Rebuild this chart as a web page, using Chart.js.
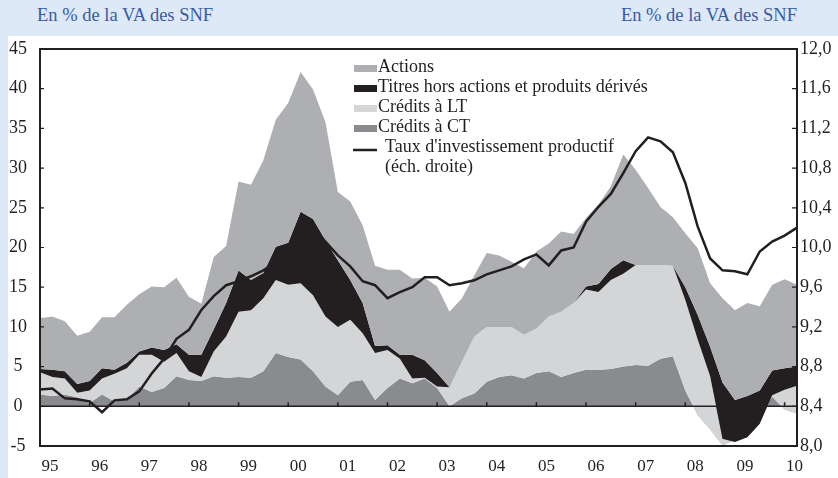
<!DOCTYPE html>
<html lang="fr">
<head>
<meta charset="utf-8">
<title>Financement des SNF</title>
<script src="https://cdn.jsdelivr.net/npm/chart.js@4.4.0/dist/chart.umd.min.js"></script>
<style>
  html, body { margin: 0; padding: 0; }
  body {
    width: 838px; height: 478px; position: relative; overflow: hidden;
    background: #dde9f6; font-family: "Liberation Serif", "DejaVu Serif", serif;
  }
  #fond { position: absolute; left: 8px; top: 36px; right: 0; bottom: 0; background: #fff; }
  .unite { position: absolute; top: 5px; font-size: 18.5px; color: #3a5aa6; white-space: nowrap; }
  #unite-g { left: 37px; }
  #unite-d { right: 41px; }
  #graphique { position: absolute; left: 0; top: 0; }
</style>
</head>
<body>
<div id="fond"></div>
<div class="unite" id="unite-g">En % de la VA des SNF</div>
<div class="unite" id="unite-d">En % de la VA des SNF</div>
<canvas id="graphique" width="838" height="478"></canvas>

<script>
// Années affichées sous l'axe (un repère tous les 4 trimestres)
const annees = ['95', '96', '97', '98', '99', '00', '01', '02', '03', '04', '05', '06', '07', '08', '09', '10'];

// Trimestres : de 1995 T1 à 2010 T2
const trimestres = [];
annees.forEach(function(a) {
    for (let t = 1; t <= 4; t++) trimestres.push(a + ' T' + t);
});
trimestres.length = 62;

// Flux en % de la VA des SNF
const creditsCT = [1.5, 1.3, 1.5, 1.1, 0.4, 1.5, 0.6, 0.9, 2.5, 1.8,
    2.3, 3.8, 3.3, 3.2, 3.8, 3.6, 3.7, 3.6, 4.4, 6.7,
    6.2, 5.9, 4.4, 2.5, 1.4, 3.1, 3.3, 0.8, 2.3, 3.5,
    2.9, 3.5, 2.3, 0.0, 1.0, 1.6, 3.1, 3.7, 3.9, 3.5,
    4.2, 4.4, 3.7, 4.2, 4.6, 4.6, 4.7, 5.0, 5.2, 5.1,
    6.0, 6.3, 2.0, -1.1, -2.9, -4.9, -4.2, -3.0, -1.0, 1.2,
    -0.4, -0.9];

const creditsLT = [2.8, 2.4, 2.0, 0.6, 1.6, 2.0, 3.5, 3.9, 4.0, 4.7,
    3.3, 2.9, 1.1, 0.5, 3.1, 5.2, 8.2, 8.5, 9.2, 9.2,
    9.1, 9.6, 9.6, 8.8, 8.6, 7.8, 5.9, 5.9, 4.8, 2.5,
    0.6, 0.1, 0.2, 2.4, 4.6, 7.2, 6.9, 6.3, 6.1, 5.5,
    5.6, 6.9, 8.2, 8.8, 10.1, 9.8, 11.2, 11.7, 12.6, 12.7,
    11.8, 11.4, 11.4, 9.5, 6.7, 0.8, -0.3, -0.9, -1.2, 0.2,
    2.5, 3.5];

const titres = [0.4, 0.9, 0.9, 1.1, 1.2, 1.3, 0.5, 0.7, 0.4, 0.9,
    1.5, 1.1, 2.1, 2.8, 2.8, 4.2, 5.2, 3.8, 3.2, 4.2,
    5.3, 9.0, 9.6, 9.6, 8.4, 5.0, 3.8, 0.9, 0.6, 0.5,
    3.0, 2.2, 1.7, 0.0, 0.0, 0.0, 0.0, 0.0, 0.0, 0.0,
    0.0, 0.0, 0.0, 0.0, 0.4, 1.0, 1.4, 1.7, 0.0, 0.0,
    0.0, 0.0, 1.6, 3.1, 3.7, 7.1, 5.3, 5.2, 4.2, 3.1,
    2.7, 2.4];

const actions = [6.4, 6.7, 6.3, 6.1, 6.2, 6.4, 6.6, 7.3, 7.2, 7.7,
    7.9, 8.4, 7.3, 6.4, 9.1, 7.2, 11.2, 12.0, 14.2, 16.0,
    17.6, 17.6, 16.3, 14.9, 8.6, 9.9, 9.8, 10.1, 9.5, 10.7,
    9.6, 10.4, 10.9, 9.5, 8.0, 7.7, 9.3, 9.0, 8.2, 8.4,
    9.7, 9.2, 10.1, 8.7, 8.6, 10.0, 10.4, 13.3, 12.0, 9.7,
    7.3, 6.1, 6.8, 8.4, 8.0, 10.6, 11.3, 11.7, 10.6, 10.8,
    11.2, 10.3];

// Taux d'investissement productif (échelle de droite)
const tauxInvest = [8.57, 8.58, 8.48, 8.47, 8.45, 8.34, 8.46, 8.47, 8.55, 8.73,
    8.88, 9.08, 9.17, 9.37, 9.51, 9.62, 9.66, 9.71, 9.77, 9.85,
    10.0, 10.2, 10.2, 10.06, 9.92, 9.81, 9.66, 9.62, 9.49, 9.55,
    9.60, 9.70, 9.70, 9.62, 9.64, 9.67, 9.73, 9.77, 9.81, 9.88,
    9.93, 9.82, 9.97, 10.0, 10.26, 10.41, 10.54, 10.75, 10.97, 11.11,
    11.07, 10.96, 10.65, 10.21, 9.89, 9.77, 9.76, 9.73, 9.96, 10.06,
    10.12, 10.20];

const couleurs = {
    actions: '#aeafb3',
    titres: '#231f20',
    lt: '#d4d5d7',
    ct: '#8a8b8e',
    trait: '#231f20'
};

// Empilement : chaque aire va du niveau précédent au sien
function cumul(listes) {
    return listes[0].map(function(_, i) {
        return listes.reduce(function(s, l) { return s + l[i]; }, 0);
    });
}
const niveauCT = cumul([creditsCT]);
const niveauLT = cumul([creditsCT, creditsLT]);
const niveauTitres = cumul([creditsCT, creditsLT, titres]);
const niveauActions = cumul([creditsCT, creditsLT, titres, actions]);

function aire(label, data, couleur, fill) {
    return {
        label: label,
        data: data,
        backgroundColor: couleur,
        borderColor: couleur,
        borderWidth: 0,
        pointRadius: 0,
        tension: 0,
        fill: fill,
        yAxisID: 'y'
    };
}

const police = '"Liberation Serif", "DejaVu Serif", serif';

// Cadre, axe à zéro, graduations intérieures et légende
const habillage = {
    id: 'habillage',
    beforeDatasetDraw(chart, args) {
        if (args.index !== 4) return;
        const { ctx, chartArea: a, scales } = chart;
        const y0 = scales.y.getPixelForValue(0);
        ctx.save();
        ctx.strokeStyle = couleurs.trait;
        ctx.lineWidth = 1.5;
        ctx.beginPath();
        ctx.moveTo(a.left, y0);
        ctx.lineTo(a.right, y0);
        for (let i = 4; i < trimestres.length; i += 4) {
            const px = scales.x.getPixelForValue(i);
            ctx.moveTo(px, y0);
            ctx.lineTo(px, y0 - 4);
        }
        ctx.stroke();
        ctx.restore();
    },
    afterDraw(chart) {
        const { ctx, chartArea: a, scales } = chart;
        ctx.save();
        ctx.strokeStyle = couleurs.trait;
        ctx.lineWidth = 2;
        ctx.strokeRect(a.left, a.top, a.right - a.left, a.bottom - a.top);

        ctx.lineWidth = 1.2;
        ctx.beginPath();
        scales.y.ticks.forEach(function(t) {
            const py = scales.y.getPixelForValue(t.value);
            ctx.moveTo(a.left, py);
            ctx.lineTo(a.left + 4, py);
        });
        scales.y1.ticks.forEach(function(t) {
            const py = scales.y1.getPixelForValue(t.value);
            ctx.moveTo(a.right, py);
            ctx.lineTo(a.right - 5, py);
        });
        ctx.stroke();

        // Légende
        const entrees = [
            { texte: 'Actions', couleur: couleurs.actions },
            { texte: 'Titres hors actions et produits dérivés', couleur: couleurs.titres },
            { texte: 'Crédits à LT', couleur: couleurs.lt },
            { texte: 'Crédits à CT', couleur: couleurs.ct }
        ];
        ctx.font = '18px ' + police;
        ctx.fillStyle = couleurs.trait;
        ctx.textBaseline = 'alphabetic';
        entrees.forEach(function(e, k) {
            const base = 72 + k * 20;
            ctx.fillStyle = e.couleur;
            ctx.fillRect(354, base - 7, 23, 7);
            ctx.fillStyle = couleurs.trait;
            ctx.fillText(e.texte, 378, base);
        });
        ctx.lineWidth = 2.5;
        ctx.beginPath();
        ctx.moveTo(353, 150);
        ctx.lineTo(377, 150);
        ctx.stroke();
        ctx.fillText("Taux d'investissement productif", 385, 152);
        ctx.fillText('(éch. droite)', 385, 172);
        ctx.restore();
    }
};

new Chart(document.getElementById('graphique'), {
    type: 'line',
    data: {
        labels: trimestres,
        datasets: [
            aire('Actions', niveauActions, couleurs.actions, '+1'),
            aire('Titres hors actions et produits dérivés', niveauTitres, couleurs.titres, '+1'),
            aire('Crédits à LT', niveauLT, couleurs.lt, '+1'),
            aire('Crédits à CT', niveauCT, couleurs.ct, 'origin'),
            {
                label: "Taux d'investissement productif (éch. droite)",
                data: tauxInvest,
                borderColor: couleurs.trait,
                borderWidth: 2.5,
                pointRadius: 0,
                tension: 0,
                fill: false,
                yAxisID: 'y1',
                order: -1
            }
        ]
    },
    options: {
        responsive: false,
        animation: false,
        layout: { padding: { top: 49, left: 0, right: 0, bottom: 0 } },
        plugins: {
            legend: { display: false },
            tooltip: { enabled: false }
        },
        scales: {
            x: {
                type: 'category',
                offset: false,
                grid: { display: false, drawTicks: false },
                border: { display: false },
                ticks: {
                    autoSkip: false,
                    maxRotation: 0,
                    padding: 10,
                    labelOffset: 10,
                    color: couleurs.trait,
                    font: { family: police, size: 17 },
                    callback: function(v, i) { return i % 4 === 0 ? annees[i / 4] : ''; }
                },
                afterFit: function(s) { s.height = 32; }
            },
            y: {
                position: 'left',
                min: -5,
                max: 45,
                grid: { display: false, drawTicks: false },
                border: { display: false },
                ticks: {
                    stepSize: 5,
                    padding: 13,
                    crossAlign: 'center',
                    color: couleurs.trait,
                    font: { family: police, size: 18 },
                    callback: function(v) { return String(v); }
                },
                afterFit: function(s) { s.width = 40; }
            },
            y1: {
                position: 'right',
                min: 8,
                max: 12,
                grid: { display: false, drawTicks: false },
                border: { display: false },
                ticks: {
                    stepSize: 0.4,
                    padding: 3,
                    color: couleurs.trait,
                    font: { family: police, size: 18 },
                    callback: function(v) { return v.toFixed(1).replace('.', ','); }
                },
                afterFit: function(s) { s.width = 41; }
            }
        }
    },
    plugins: [habillage]
});
</script>
</body>
</html>
